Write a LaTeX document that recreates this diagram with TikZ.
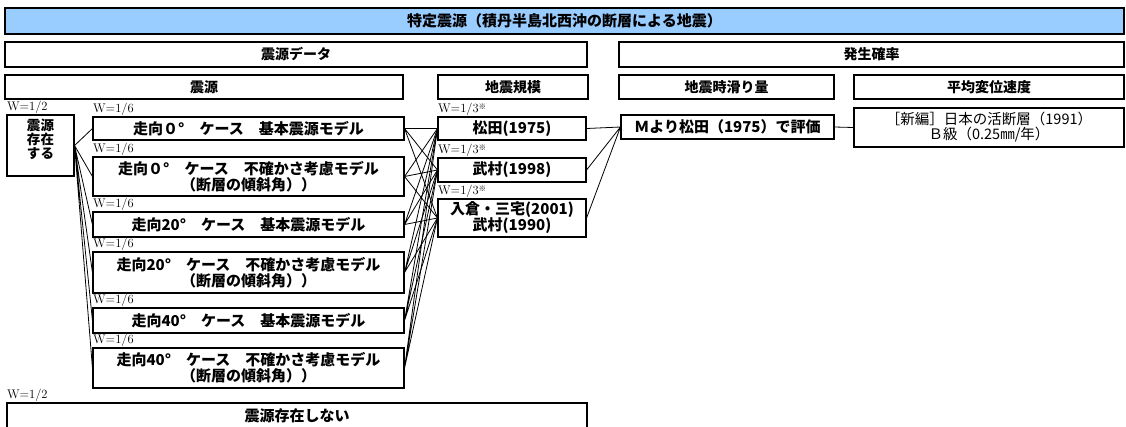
\documentclass[tikz,border=0pt]{standalone}
\usepackage{fontspec}
\newfontfamily\jpfont{Noto Sans CJK JP}
\usetikzlibrary{positioning}
\definecolor{titleblue}{RGB}{153,204,255}
\newcommand{\kome}{\raisebox{3pt}{\jpfont\fontsize{7.5}{7.5}\selectfont ※}}

\begin{document}
\begin{tikzpicture}[x=1pt, y=-1pt,
	headbox/.style={draw, line width=1.8pt, inner sep=0pt, align=center, font=\jpfont\bfseries\fontsize{14}{15}\selectfont},
	casebox/.style={draw, line width=1.1pt, inner sep=0pt, align=center, font=\jpfont\bfseries\fontsize{15}{16}\selectfont},
	wlabel/.style={inner sep=0.5pt, anchor=south west, font=\fontsize{12.5}{12.5}\selectfont},
	link/.style={line width=0.8pt}]
	\useasboundingbox (0,0) rectangle (1126,426);
	\clip (0,0) rectangle (1126,426);
	
	% header rows
	\node[headbox, fill=titleblue, minimum width=1119pt, minimum height=26pt, font=\jpfont\bfseries\fontsize{15}{16}\selectfont] (title) at (564.5,21) {特定震源（積丹半島北西沖の断層による地震）};
	\node[headbox, minimum width=582pt, minimum height=25pt] (srcdata) at (296,54.5) {震源データ};
	\node[headbox, minimum width=505pt, minimum height=25pt] (prob) at (871.5,54.5) {発生確率};
	\node[headbox, minimum width=398pt, minimum height=24pt] (srchead) at (204,87) {震源};
	\node[headbox, minimum width=150pt, minimum height=24pt] (maghead) at (513,87) {地震規模};
	\node[headbox, minimum width=215pt, minimum height=24pt] (sliphead) at (726.5,87) {地震時滑り量};
	\node[headbox, minimum width=270pt, minimum height=24pt] (ratehead) at (989,87) {平均変位速度};
	
	% source
	\node[casebox, minimum width=67pt, minimum height=61pt, font=\jpfont\bfseries\fontsize{13.5}{11.5}\selectfont] (exist) at (40.5,145.5) {震源\\存在\\する\\[2pt]};
	\node[wlabel] (wexist) at (exist.north west) {W=1/2};
	
	\node[casebox, minimum width=311pt, minimum height=23pt] (case1) at (248.5,128.5) {走向０°　ケース　基本震源モデル};
	\node[casebox, minimum width=311pt, minimum height=39pt] (case2) at (248.5,176.5) {走向０°　ケース　不確かさ考慮モデル\\（断層の傾斜角））};
	\node[casebox, minimum width=311pt, minimum height=25pt] (case3) at (248.5,224.5) {走向20°　ケース　基本震源モデル};
	\node[casebox, minimum width=311pt, minimum height=41pt] (case4) at (248.5,272.5) {走向20°　ケース　不確かさ考慮モデル\\（断層の傾斜角））};
	\node[casebox, minimum width=311pt, minimum height=25pt] (case5) at (248.5,320.5) {走向40°　ケース　基本震源モデル};
	\node[casebox, minimum width=311pt, minimum height=40pt] (case6) at (248.5,368) {走向40°　ケース　不確かさ考慮モデル\\（断層の傾斜角））};
	\node[wlabel] (wcase1) at (case1.north west) {W=1/6};
	\node[wlabel] (wcase2) at (case2.north west) {W=1/6};
	\node[wlabel] (wcase3) at (case3.north west) {W=1/6};
	\node[wlabel] (wcase4) at (case4.north west) {W=1/6};
	\node[wlabel] (wcase5) at (case5.north west) {W=1/6};
	\node[wlabel] (wcase6) at (case6.north west) {W=1/6};
	
	\node[casebox, minimum width=580pt, minimum height=25pt] (nosrc) at (297,415.5) {震源存在しない};
	\node[wlabel] (wnosrc) at (nosrc.north west) {W=1/2};
	
	% magnitude
	\node[casebox, minimum width=148pt, minimum height=23pt] (mag1) at (512,128.5) {松田(1975)};
	\node[casebox, minimum width=148pt, minimum height=24pt] (mag2) at (512,170) {武村(1998)};
	\node[casebox, minimum width=148pt, minimum height=38pt] (mag3) at (512,218) {入倉・三宅(2001)\\武村(1990)};
	\node[wlabel] (wmag1) at (mag1.north west) {W=1/3\kome};
	\node[wlabel] (wmag2) at (mag2.north west) {W=1/3\kome};
	\node[wlabel] (wmag3) at (mag3.north west) {W=1/3\kome};
	
	% probability
	\node[casebox, minimum width=213pt, minimum height=24pt] (slip) at (727.5,127) {Ｍより松田（1975）で評価};
	\node[casebox, minimum width=270pt, minimum height=39pt, font=\jpfont\fontsize{14.5}{15}\selectfont] (rate) at (989,127.5) {［新編］日本の活断層（1991）\\Ｂ級（0.25㎜/年）};
	
	% links
	\draw[link] (exist.east) -- (case1.west) (exist.east) -- (case2.west) (exist.east) -- (case3.west)
		(exist.east) -- (case4.west) (exist.east) -- (case5.west) (exist.east) -- (case6.west);
	\draw[link] (case1.east) -- (mag1.west) (case1.east) -- (mag2.west) (case1.east) -- (mag3.west);
	\draw[link] (case2.east) -- (mag1.west) (case2.east) -- (mag2.west) (case2.east) -- (mag3.west);
	\draw[link] (case3.east) -- (mag1.west) (case3.east) -- (mag2.west) (case3.east) -- (mag3.west);
	\draw[link] (case4.east) -- (mag1.west) (case4.east) -- (mag2.west) (case4.east) -- (mag3.west);
	\draw[link] (case5.east) -- (mag1.west) (case5.east) -- (mag2.west) (case5.east) -- (mag3.west);
	\draw[link] (case6.east) -- (mag1.west) (case6.east) -- (mag2.west) (case6.east) -- (mag3.west);
	\draw[link] (mag1.east) -- (slip.west) (mag2.east) -- (slip.west) (mag3.east) -- (slip.west);
	\draw[link] (slip.east) -- (rate.west);
\end{tikzpicture}
\end{document}
